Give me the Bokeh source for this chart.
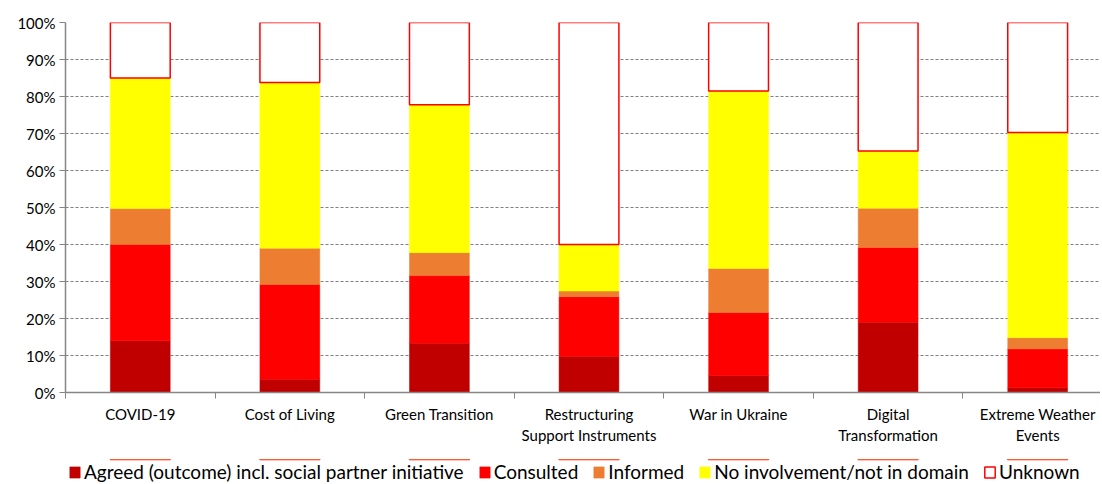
import numpy as np
from bokeh.plotting import figure
from bokeh.layouts import column
from bokeh.models import (ColumnDataSource, FixedTicker, Legend, LegendItem,
                          Range1d, PrintfTickFormatter)
from bokeh.embed import file_html
from bokeh.resources import INLINE

categories = ["COVID-19", "Cost of Living", "Green Transition",
              "Restructuring\nSupport Instruments", "War in Ukraine",
              "Digital\nTransformation", "Extreme Weather\nEvents"]
agreed = [14.0, 3.6, 13.3, 9.8, 4.6, 19.0, 1.3]
consulted = [26.0, 25.6, 18.3, 16.1, 17.0, 20.2, 10.5]
informed = [9.7, 9.8, 6.2, 1.5, 11.9, 10.6, 3.0]
no_involvement = [35.3, 44.8, 40.0, 12.6, 48.0, 15.5, 55.5]
unknown = [15.0, 16.2, 22.2, 60.0, 18.5, 34.7, 29.7]

series_names = ["Agreed (outcome) incl. social partner initiative", "Consulted",
                "Informed", "No involvement/not in domain", "Unknown"]
fills = ["#C00000", "#FF0000", "#ED7D31", "#FFFF00", "#FFFFFF"]
lines = ["#C00000", "#FF0000", "#ED7D31", "#FFFF00", "#FF0000"]
widths = [0.5, 0.5, 0.5, 0.5, 1.5]

FONT = "Lato"
n = len(categories)
centers = [i + 0.5 for i in range(n)]
bounds = [float(i) for i in range(n + 1)]
stackers = ["agreed", "consulted", "informed", "noinv", "unknown"]

src = ColumnDataSource(dict(x=centers, agreed=agreed, consulted=consulted,
                            informed=informed, noinv=no_involvement, unknown=unknown))

p = figure(frame_width=1035, frame_height=370, output_backend="svg", toolbar_location=None,
           x_range=Range1d(0, 6.92), y_range=Range1d(0, 100),
           min_border_left=65, min_border_right=0, min_border_top=22,
           min_border_bottom=67)
p.outline_line_color = None

rs = p.vbar_stack(stackers, x="x", width=0.4, source=src, fill_color=fills,
                  line_color=lines, line_width=widths)

# axes
p.xaxis.ticker = FixedTicker(ticks=centers, minor_ticks=bounds)
p.xaxis.major_label_overrides = {c: lab for c, lab in zip(centers, categories)}
p.xaxis.major_tick_line_color = None
p.xaxis.minor_tick_line_color = "#868686"
p.xaxis.minor_tick_out = 6
p.xaxis.minor_tick_in = 0
p.xaxis.axis_line_color = "#868686"
p.xaxis.axis_line_width = 1.5
p.xaxis.major_label_text_font = FONT
p.xaxis.major_label_text_font_size = "15px"
p.xaxis.major_label_text_color = "#000000"
p.xaxis.major_label_standoff = 6

p.yaxis.ticker = FixedTicker(ticks=list(range(0, 101, 10)))
p.yaxis.formatter = PrintfTickFormatter(format="%d%%")
p.yaxis.minor_tick_line_color = None
p.yaxis.major_tick_out = 6
p.yaxis.major_tick_in = 0
p.yaxis.major_tick_line_color = "#868686"
p.yaxis.axis_line_color = "#868686"
p.yaxis.axis_line_width = 1.5
p.yaxis.major_label_text_font = FONT
p.yaxis.major_label_text_font_size = "15px"
p.yaxis.major_label_text_color = "#000000"
p.yaxis.major_label_standoff = 4

p.xgrid.grid_line_color = None
p.ygrid.grid_line_color = "#7f7f7f"
p.ygrid.grid_line_dash = "3 2"
p.ygrid.grid_line_width = 1

# legend strip: a second figure whose stacked bars lie outside its view,
# used only to carry the legend entries
lg = figure(width=1100, height=25, output_backend="svg", toolbar_location=None,
            x_axis_type=None, y_axis_type=None, min_border=0,
            x_range=Range1d(0, 6.92), y_range=Range1d(-1001, -1000))
lg.outline_line_color = None
lg.xgrid.grid_line_color = None
lg.ygrid.grid_line_color = None
proxies = lg.vbar_stack(stackers, x="x", width=0.4, source=src, fill_color=fills,
                        line_color=lines, line_width=widths)
items = [LegendItem(label=name, renderers=[r]) for name, r in zip(series_names, proxies)]
legend = Legend(items=items, orientation="horizontal", location=(3, 1),
                label_text_font=FONT, label_text_font_size="19px",
                label_text_color="#000000", glyph_width=13, glyph_height=14,
                label_standoff=3, spacing=14, padding=0, margin=0,
                border_line_color=None, background_fill_alpha=0,
                label_height=18)
lg.add_layout(legend, "center")

layout = column(p, lg, spacing=0)
open("out.html", "w").write(file_html(layout, INLINE))
